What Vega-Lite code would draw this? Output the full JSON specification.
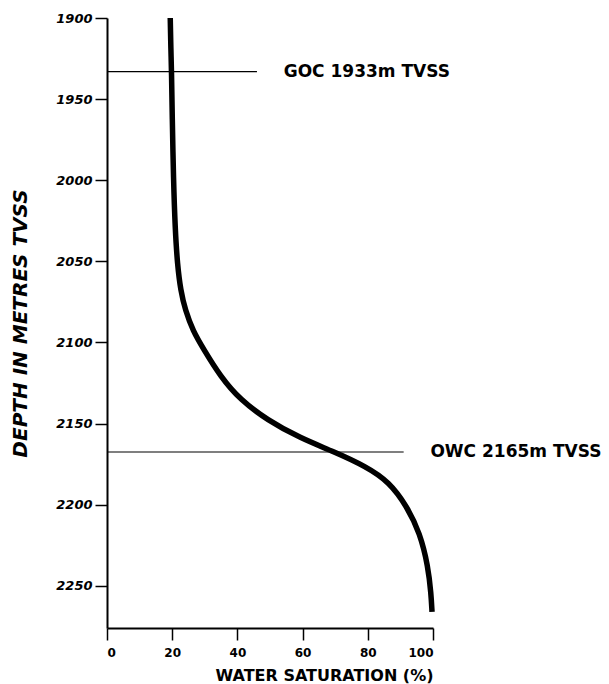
{
  "$schema": "https://vega.github.io/schema/vega-lite/v6.json",
  "autosize": "none",
  "padding": {"left": 107, "top": 18, "right": 176, "bottom": 56},
  "width": 326,
  "height": 610,
  "background": "white",
  "config": {
    "view": {"stroke": null},
    "font": "DejaVu Sans",
    "axis": {"grid": false, "domainColor": "black", "domainWidth": 2, "tickColor": "black", "tickWidth": 1.5, "tickSize": 12, "labelColor": "black", "titleColor": "black", "labelFont": "DejaVu Sans", "titleFont": "DejaVu Sans", "labelFontWeight": "bold", "titleFontWeight": "bold"}
  },
  "datasets": {
    "curve": [
      {"sw": 19.4, "depth": 1900},
      {"sw": 19.6, "depth": 1920},
      {"sw": 19.8, "depth": 1933},
      {"sw": 20.0, "depth": 1960},
      {"sw": 20.4, "depth": 2000},
      {"sw": 20.9, "depth": 2030},
      {"sw": 21.6, "depth": 2052},
      {"sw": 22.6, "depth": 2068},
      {"sw": 24.0, "depth": 2080},
      {"sw": 26.4, "depth": 2093},
      {"sw": 29.6, "depth": 2104},
      {"sw": 34.8, "depth": 2121},
      {"sw": 40.9, "depth": 2135.4},
      {"sw": 49.1, "depth": 2147.7},
      {"sw": 59.3, "depth": 2159},
      {"sw": 69.5, "depth": 2167.2},
      {"sw": 79.5, "depth": 2176.5},
      {"sw": 86.6, "depth": 2186},
      {"sw": 92.0, "depth": 2201},
      {"sw": 96.0, "depth": 2217.5},
      {"sw": 98.5, "depth": 2238},
      {"sw": 99.4, "depth": 2255},
      {"sw": 99.7, "depth": 2266}
    ],
    "contacts": [
      {"label": "GOC  1933m TVSS", "depth": 1933, "start": 0, "end": 46, "labelAt": 54.2},
      {"label": "OWC 2165m TVSS", "depth": 2167.5, "start": 0, "end": 91, "labelAt": 99.2}
    ]
  },
  "layer": [
    {
      "data": {"name": "contacts"},
      "mark": {"type": "rule", "color": "black", "strokeWidth": 1.2},
      "encoding": {
        "x": {"field": "start", "type": "quantitative", "scale": {"domain": [0, 100], "nice": false, "zero": false},
          "axis": {"title": "WATER SATURATION (%)", "values": [0, 20, 40, 60, 80, 100], "format": "d", "labelFontSize": 12, "labelPadding": 7, "titleFontSize": 16, "titleAnchor": "end", "titleAlign": "right", "titleX": 326, "titleY": 52, "titleBaseline": "alphabetic"}},
        "x2": {"field": "end"},
        "y": {"field": "depth", "type": "quantitative", "scale": {"domain": [1900, 2276], "reverse": true, "nice": false, "zero": false},
          "axis": {"title": "DEPTH IN METRES TVSS", "values": [1900, 1950, 2000, 2050, 2100, 2150, 2200, 2250], "format": "d", "labelFontSize": 13, "labelFontStyle": "italic", "labelPadding": 3, "titleFontSize": 20, "titleFontStyle": "italic", "titleX": -87, "titleY": 305, "titleAngle": -90, "titleAlign": "center", "titleBaseline": "middle"}}
      }
    },
    {
      "data": {"name": "contacts"},
      "mark": {"type": "text", "align": "left", "baseline": "middle", "font": "DejaVu Sans", "fontWeight": "bold", "fontSize": 17, "color": "black"},
      "encoding": {
        "x": {"field": "labelAt", "type": "quantitative"},
        "y": {"field": "depth", "type": "quantitative"},
        "text": {"field": "label"}
      }
    },
    {
      "data": {"name": "curve"},
      "mark": {"type": "line", "color": "black", "strokeWidth": 5.5, "interpolate": "basis"},
      "encoding": {
        "x": {"field": "sw", "type": "quantitative"},
        "y": {"field": "depth", "type": "quantitative"},
        "order": {"field": "depth", "type": "quantitative"}
      }
    }
  ]
}
